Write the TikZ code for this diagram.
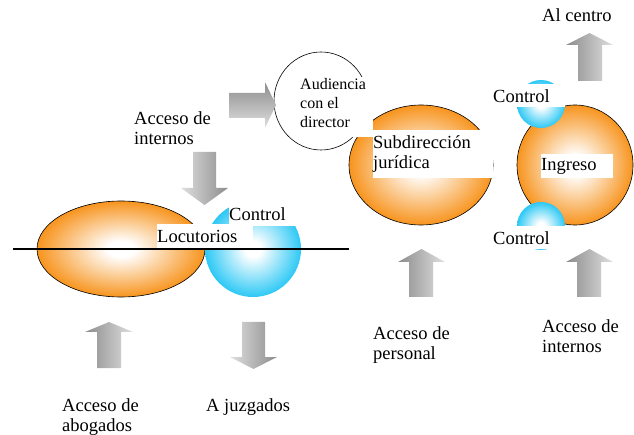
\documentclass[tikz,border=0pt]{standalone}
\usepackage{fontspec}
\setmainfont{Liberation Serif}
\definecolor{orangefill}{RGB}{247,148,30}
\definecolor{bluefill}{RGB}{45,200,245}
\pgfdeclareradialshading{orangeball}{\pgfpoint{0bp}{0bp}}{color(0bp)=(white); color(4bp)=(white); color(25bp)=(orangefill); color(50bp)=(orangefill)}
\pgfdeclareradialshading{blueball}{\pgfpoint{0bp}{0bp}}{color(0bp)=(white); color(4bp)=(white); color(25bp)=(bluefill); color(50bp)=(bluefill)}
\begin{document}
\begin{tikzpicture}[x=1pt,y=-1pt,
 orangeblob/.style={shading=orangeball,draw=black,line width=0.6pt},
 blueblob/.style={shading=blueball},
 upshade/.style={left color=gray!90,right color=gray!25},
 downshade/.style={left color=gray!25,right color=gray!90},
 rightshade/.style={top color=gray!90,bottom color=gray!25},
 lbl/.style={inner sep=0pt,anchor=north west,align=left,font=\fontsize{18.5}{20}\selectfont},
 labelbox/.style={lbl,fill=white}]
\useasboundingbox (0,0) rectangle (634,435);

 \shadedraw [orangeblob] (121,249) ellipse [x radius=84,y radius=48];
 \shade [blueblob] (253,249) circle [radius=48];
 \node [labelbox,text width=71,minimum height=25] (ctrlloc) at (229,201) {Control};
 \node [labelbox,text width=96,minimum height=25] (locut) at (157,224) {Locutorios};
 \draw [line width=1.5pt] (13,249) -- (349,249);

 \draw [fill=white,line width=0.6pt] (321,101) ellipse [x radius=47,y radius=49];
 \shadedraw [orangeblob] (421,165) ellipse [x radius=72,y radius=60];
 \node [labelbox,minimum width=75,minimum height=60] (audbox) at (298,77) {};
 \node [lbl,font=\fontsize{16}{19}\selectfont] (aud) at (300,78) {Audiencia\\con el\\director};
 \node [labelbox,text width=120,minimum height=48] (subdir) at (373,130) {Subdirección\\jurídica};

 \shadedraw [orangeblob] (575,165) ellipse [x radius=58,y radius=60];
 \shade [blueblob] (541,104) circle [radius=24];
 \shade [blueblob] (541,226) circle [radius=24];
 \node [labelbox,text width=72,minimum height=23] (ctrltop) at (493,84) {Control};
 \node [labelbox,text width=72,minimum height=23] (ctrlbot) at (493,226) {Control};
 \node [labelbox,text width=72,minimum height=24] (ingreso) at (541,154) {Ingreso};

 \shade [rightshade] (229,93) -- (265,93) -- (265,82) -- (276,105) -- (265,128) -- (265,118) -- (229,118) -- cycle;
 \shade [downshade] (193,152) -- (193,188) -- (181,188) -- (204.5,205) -- (228,188) -- (216,188) -- (216,152) -- cycle;
 \shade [upshade] (97,368) -- (97,332) -- (85,332) -- (109,322) -- (133,332) -- (121,332) -- (121,368) -- cycle;
 \shade [downshade] (242,322) -- (242,357) -- (230,357) -- (253.5,369) -- (277,357) -- (265,357) -- (265,322) -- cycle;
 \shade [upshade] (409,297) -- (409,262) -- (398,262) -- (421.5,249) -- (445,262) -- (433,262) -- (433,297) -- cycle;
 \shade [upshade] (577,297) -- (577,262) -- (566,262) -- (589.5,249) -- (613,262) -- (601,262) -- (601,297) -- cycle;
 \shade [upshade] (578,81) -- (578,45) -- (566,45) -- (589.5,33) -- (613,45) -- (602,45) -- (602,81) -- cycle;

 \node [lbl] (intlabel) at (134,111.4) {Acceso de\\internos};
 \node [lbl] (abogados) at (62,398.4) {Acceso de\\abogados};
 \node [lbl] (juzgados) at (206,398.4) {A juzgados};
 \node [lbl] (personal) at (373,326.4) {Acceso de\\personal};
 \node [lbl] (intright) at (542,319.4) {Acceso de\\internos};
 \node [lbl] (centro) at (542,8.4) {Al centro};
\end{tikzpicture}
\end{document}
